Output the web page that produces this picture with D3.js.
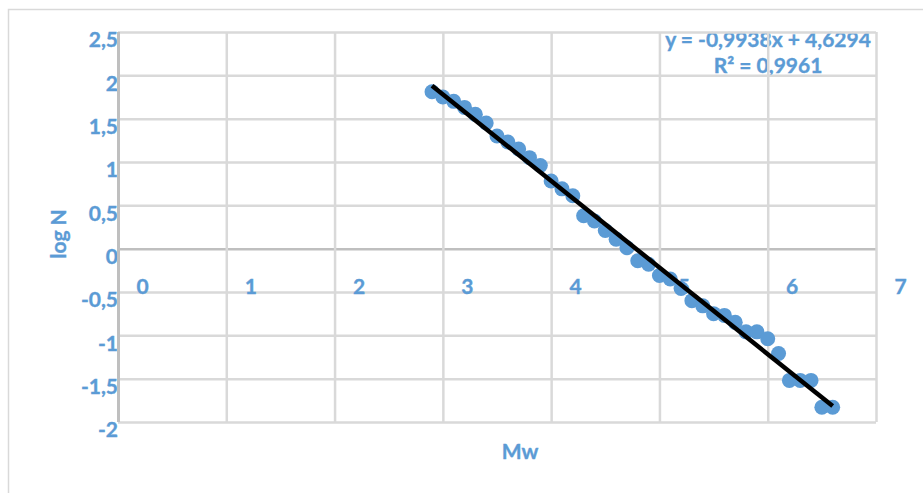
<!DOCTYPE html>
<html>
<head>
<meta charset="utf-8">
<script src="https://cdn.jsdelivr.net/npm/d3@7/dist/d3.min.js"></script>
<style>
    html, body { margin: 0; padding: 0; background: #fff; }
    svg text { font-family: Lato, "Open Sans", sans-serif; font-weight: bold; fill: #5B9BD5;
        stroke: #5B9BD5; stroke-width: 0.35px; }
</style>
</head>
<body>
<div id="chart"></div>
<script>
// magnitude (Mw) and log of cumulative count
const mw = [2.9, 3.0, 3.1, 3.2, 3.3, 3.4, 3.5, 3.6, 3.7, 3.8,
    3.9, 4.0, 4.1, 4.2, 4.3, 4.4, 4.5, 4.6, 4.7, 4.8,
    4.9, 5.0, 5.1, 5.2, 5.3, 5.4, 5.5, 5.6, 5.7, 5.8,
    5.9, 6.0, 6.1, 6.2, 6.3, 6.4, 6.5, 6.6];
const logN = [1.81, 1.75, 1.70, 1.63, 1.55, 1.45, 1.30, 1.23, 1.15, 1.05,
    0.96, 0.78, 0.69, 0.61, 0.38, 0.32, 0.21, 0.11, 0.01, -0.14,
    -0.18, -0.31, -0.35, -0.46, -0.60, -0.66, -0.75, -0.77, -0.85, -0.96,
    -0.96, -1.04, -1.21, -1.52, -1.52, -1.52, -1.83, -1.83];
const xTicks = [0, 1, 2, 3, 4, 5, 6, 7];
const yTicks = [-2, -1.5, -1, -0.5, 0, 0.5, 1, 1.5, 2, 2.5];
const eqLines = ['y = -0,9938x + 4,6294', 'R² = 0,9961'];

const W = 923, H = 493;
const blue = '#5B9BD5';
const grid = '#D9D9D9';

const svg = d3.select('#chart').append('svg')
    .attr('width', W)
    .attr('height', H);

// chart area border
svg.append('rect')
    .attr('x', 8.5).attr('y', 9.5)
    .attr('width', W + 20).attr('height', H + 20)
    .attr('fill', 'none')
    .attr('stroke', grid)
    .attr('stroke-width', 1.5);

const x = d3.scaleLinear().domain([0, 7]).range([118, 876]);
const y = d3.scaleLinear().domain([-2, 2.5]).range([422, 32]);
const fmt = d => String(d).replace('.', ',');

// trendline equation sits under the gridlines
const eq = svg.append('g');
eqLines.forEach((t, i) => {
    eq.append('text')
        .attr('x', 768)
        .attr('y', 47 + i * 26)
        .attr('text-anchor', 'middle')
        .style('font-size', '21px')
        .text(t);
});

// horizontal gridlines + y labels
const yAxis = svg.append('g')
    .attr('transform', `translate(${x(0)},0)`)
    .call(d3.axisLeft(y).tickValues(yTicks).tickFormat(fmt)
        .tickSize(-(x(7) - x(0))).tickPadding(0));
yAxis.select('.domain').remove();
yAxis.selectAll('line')
    .attr('stroke', d => d === 0 ? '#BFBFBF' : grid)
    .attr('stroke-width', 2.5);
yAxis.selectAll('text')
    .attr('dy', '0.32em')
    .attr('transform', 'translate(0,8)')
    .style('font-size', '21px')
    .style('font-family', null)
    .attr('fill', blue);

// vertical gridlines
const xGrid = svg.append('g')
    .attr('transform', `translate(0,${y(-2)})`)
    .call(d3.axisBottom(x).tickValues(xTicks).tickFormat('')
        .tickSize(-(y(-2) - y(2.5))));
xGrid.select('.domain').remove();
xGrid.selectAll('line')
    .attr('stroke', d => d === 0 ? '#BFBFBF' : grid)
    .attr('stroke-width', d => d === 0 ? 3 : 2.5);

// x labels hang off the zero line, nudged right
const xAxis = svg.append('g')
    .attr('transform', `translate(0,${y(0)})`)
    .call(d3.axisBottom(x).tickValues(xTicks).tickFormat(fmt).tickSize(0).tickPadding(30));
xAxis.select('.domain').remove();
xAxis.selectAll('text')
    .attr('dx', 24)
    .style('font-size', '21px')
    .style('font-family', null)
    .attr('fill', blue);

// points
const pts = mw.map((m, i) => [m, logN[i]]);
svg.append('g')
    .selectAll('circle')
    .data(pts)
    .join('circle')
    .attr('cx', d => x(d[0]))
    .attr('cy', d => y(d[1]))
    .attr('r', 7.5)
    .attr('fill', blue);

// least-squares trendline through the points
const mx = d3.mean(mw), my = d3.mean(logN);
const slope = d3.sum(pts, d => (d[0] - mx) * (d[1] - my)) / d3.sum(mw, m => (m - mx) * (m - mx));
const icpt = my - slope * mx;
const x0 = d3.min(mw), x1 = d3.max(mw);
svg.append('line')
    .attr('x1', x(x0)).attr('y1', y(icpt + slope * x0))
    .attr('x2', x(x1)).attr('y2', y(icpt + slope * x1))
    .attr('stroke', '#000')
    .attr('stroke-width', 4.5);

// axis titles
svg.append('text')
    .attr('transform', 'translate(66,234) rotate(-90)')
    .attr('text-anchor', 'middle')
    .style('font-size', '21px')
    .text('log N');

svg.append('text')
    .attr('x', 520)
    .attr('y', 459)
    .attr('text-anchor', 'middle')
    .style('font-size', '21px')
    .text('Mw');
</script>
</body>
</html>
